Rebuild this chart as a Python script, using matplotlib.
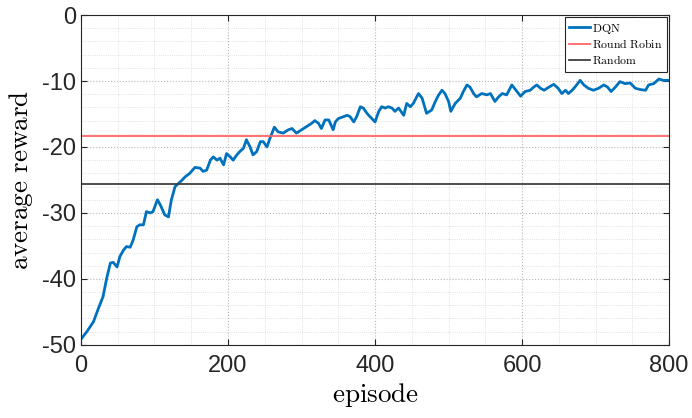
import numpy as np
import matplotlib
matplotlib.use("Agg")
import matplotlib.pyplot as plt
from matplotlib.ticker import MultipleLocator

# values
episodes = [1, 8, 17, 24, 30, 35, 40, 44, 49, 53, 58, 62, 67, 71, 76, 80, 85, 89, 94, 98,
            104, 108, 114, 119, 123, 128, 135, 142, 148, 155,
            162, 166, 171, 176, 180, 185, 189, 194, 198, 203, 207, 212, 216, 221, 225, 230,
            234, 239, 244, 248, 253, 257, 263, 268, 275, 282, 287, 293, 300, 307, 314, 318,
            323, 327, 332, 337, 343, 346, 350, 357, 362, 366, 371, 375, 380, 384, 389,
            393, 400, 405, 409, 414, 418, 423, 427, 432, 439, 443, 448, 452, 459, 464, 470,
            477, 482, 486, 491, 495, 500, 503, 509, 516, 520, 525, 529, 534, 538, 545, 552,
            557, 563, 568, 573, 579, 586, 593, 598,
            604, 611, 616, 620, 625, 630, 634, 643, 649, 654, 659, 663, 668, 672, 679, 684,
            690, 697, 704, 711, 716, 721, 727, 733, 740, 747, 754, 761, 768, 772, 779, 786,
            792, 799]
dqn = [-49.0, -48.0, -46.5, -44.4, -42.7, -39.9, -37.6, -37.5, -38.2, -36.6, -35.6, -35.1,
       -35.2, -34.1, -32.1, -31.8, -31.8, -29.8, -30.0, -29.8,
       -28.0, -28.8, -30.3, -30.6, -28.0, -26.0, -25.3, -24.5, -24.0, -23.1,
       -23.2, -23.7, -23.5, -22.0, -21.5, -22.0, -21.7, -22.7, -21.0, -21.5, -22.0, -21.2,
       -20.7, -20.2, -18.9, -20.0, -21.2, -20.7, -19.2, -19.2, -20.0, -18.7, -17.0, -17.7,
       -17.9, -17.4, -17.2, -17.9, -17.4, -16.9, -16.4, -16.0, -16.4, -17.2, -15.9, -15.9,
       -17.4, -16.2, -15.7, -15.4, -15.2, -15.4, -16.2, -15.4, -13.9, -14.1, -14.9,
       -15.4, -16.2, -14.6, -13.9, -14.1, -13.9, -14.1, -14.6, -14.1, -15.2, -13.4, -13.9,
       -13.4, -11.9, -12.6, -14.9, -14.4, -13.1, -12.2, -11.4, -11.9, -13.1, -14.6, -13.4,
       -12.6, -11.6, -10.6, -10.9, -11.9, -12.4, -11.9, -12.1, -11.9, -13.1, -12.4, -11.9,
       -12.1, -10.6, -11.6, -12.3,
       -11.6, -11.4, -10.9, -10.6, -11.1, -11.4, -11.1, -10.5, -11.1, -11.9, -11.4, -11.9,
       -11.4, -10.9, -9.9, -10.6, -11.1, -11.4, -11.1, -10.6, -10.9, -11.6, -10.9, -10.1,
       -10.4, -10.3, -11.1, -11.3, -11.4, -10.6, -10.4, -9.7, -9.9, -9.9]
round_robin = -18.3
random_policy = -25.6

plt.rcParams['mathtext.fontset'] = 'cm'
plt.rcParams['axes.unicode_minus'] = False
plt.rcParams['font.family'] = ['Liberation Sans', 'DejaVu Sans']

fig = plt.figure(figsize=(6.92, 4.18), dpi=100)
ax = fig.add_axes([0.117, 0.175, 0.850, 0.789])

ax.plot(episodes, dqn, color='#0072BD', lw=2, label=r'$\mathrm{DQN}$')
ax.axhline(round_robin, color='#FF6666', lw=1.3, label=r'$\mathrm{Round\ Robin}$')
ax.axhline(random_policy, color='#404040', lw=1.3, label=r'$\mathrm{Random}$')

ax.set_xlim(0, 800)
ax.set_ylim(-50, 0)
ax.xaxis.set_major_locator(MultipleLocator(200))
ax.xaxis.set_minor_locator(MultipleLocator(50))
ax.yaxis.set_major_locator(MultipleLocator(10))
ax.yaxis.set_minor_locator(MultipleLocator(2))

ax.grid(which='major', ls=':', color='#b8b8b8', lw=0.8)
ax.grid(which='minor', ls=':', color='#d8d8d8', lw=0.6)
ax.set_axisbelow(True)

ax.tick_params(which='both', direction='in', top=True, right=True,
               labelsize=17, colors='#262626', length=4)
ax.tick_params(axis='x', pad=7)
ax.tick_params(which='minor', length=0)
for s in ax.spines.values():
    s.set_color('#262626')
    s.set_linewidth(0.8)

ax.set_xlabel(r'$\mathrm{episode}$', fontsize=19.5, labelpad=3)
ax.set_ylabel(r'$\mathrm{average\ reward}$', fontsize=19.5, labelpad=5)

leg = ax.legend(loc='upper right', fontsize=8.5, handlelength=1.8, handletextpad=0.2,
                borderpad=0.35, labelspacing=0.25, fancybox=False, framealpha=1,
                borderaxespad=0.2)
leg.get_frame().set_edgecolor('#262626')
leg.get_frame().set_linewidth(0.8)

fig.savefig('out.png', dpi=100)
